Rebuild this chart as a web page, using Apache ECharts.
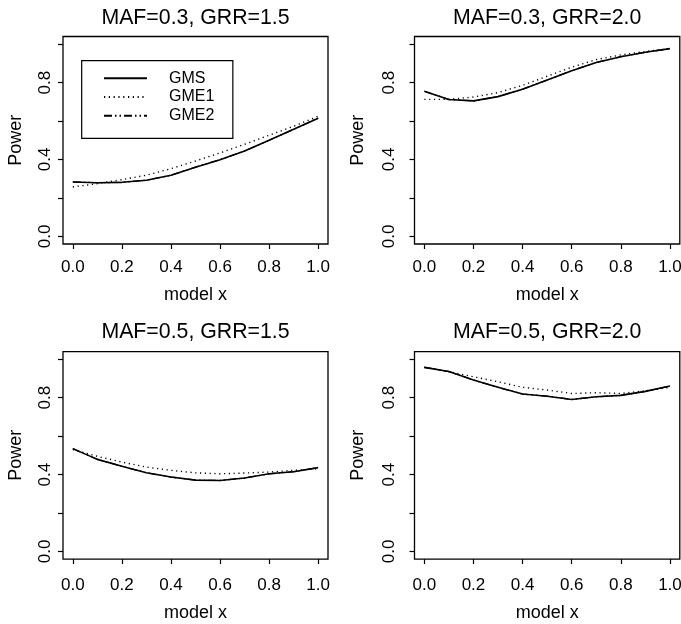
<!DOCTYPE html>
<html><head><meta charset="utf-8">
<script src="https://cdn.jsdelivr.net/npm/echarts@6/dist/echarts.min.js"></script>
<style>html,body{margin:0;padding:0;background:#fff}#c{width:681px;height:624px}</style>
</head><body><div id="c"></div>
<script>
// ---- data ----
const modelX = [0, 0.1, 0.2, 0.3, 0.4, 0.5, 0.6, 0.7, 0.8, 0.9, 1.0];
const panelTitles = ['MAF=0.3, GRR=1.5', 'MAF=0.3, GRR=2.0', 'MAF=0.5, GRR=1.5', 'MAF=0.5, GRR=2.0'];
const seriesNames = ['GMS', 'GME1', 'GME2'];
const xTicks = [0, 0.2, 0.4, 0.6, 0.8, 1.0];
const yTicks = [0, 0.2, 0.4, 0.6, 0.8, 1.0];
const yLabels = [0, 0.4, 0.8];
const xAxisTitle = 'model x';
const yAxisTitle = 'Power';

const gms_p1  = [0.283, 0.279, 0.281, 0.292, 0.318, 0.360, 0.399, 0.444, 0.500, 0.557, 0.615];
const gme1_p1 = [0.257, 0.274, 0.295, 0.318, 0.352, 0.392, 0.434, 0.479, 0.526, 0.573, 0.625];
const gme2_p1 = [0.283, 0.279, 0.281, 0.292, 0.318, 0.360, 0.399, 0.444, 0.500, 0.557, 0.615];

const gms_p2  = [0.755, 0.712, 0.705, 0.727, 0.766, 0.813, 0.862, 0.905, 0.935, 0.958, 0.977];
const gme1_p2 = [0.713, 0.713, 0.725, 0.748, 0.786, 0.833, 0.880, 0.920, 0.944, 0.962, 0.977];
const gme2_p2 = [0.755, 0.712, 0.705, 0.727, 0.766, 0.813, 0.862, 0.905, 0.935, 0.958, 0.977];

const gms_p3  = [0.535, 0.479, 0.443, 0.409, 0.387, 0.371, 0.369, 0.382, 0.404, 0.415, 0.436];
const gme1_p3 = [0.530, 0.495, 0.465, 0.439, 0.422, 0.409, 0.404, 0.408, 0.413, 0.422, 0.430];
const gme2_p3 = [0.535, 0.479, 0.443, 0.409, 0.387, 0.371, 0.369, 0.382, 0.404, 0.415, 0.436];

const gms_p4  = [0.958, 0.936, 0.892, 0.854, 0.819, 0.808, 0.791, 0.805, 0.812, 0.833, 0.861];
const gme1_p4 = [0.958, 0.936, 0.909, 0.883, 0.854, 0.840, 0.822, 0.826, 0.822, 0.836, 0.854];
const gme2_p4 = [0.958, 0.936, 0.892, 0.854, 0.819, 0.808, 0.791, 0.805, 0.812, 0.833, 0.861];

const panelData = [
  [gms_p1, gme1_p1, gme2_p1],
  [gms_p2, gme1_p2, gme2_p2],
  [gms_p3, gme1_p3, gme2_p3],
  [gms_p4, gme1_p4, gme2_p4]
];

// ---- layout / style ----
const FONT = 'Liberation Sans';
const grids = [
  {left: 63,    top: 36.5,  width: 265,   height: 207.5},
  {left: 414.5, top: 36.5,  width: 265.3, height: 207.5},
  {left: 63,    top: 351.6, width: 265,   height: 207.5},
  {left: 414.5, top: 351.6, width: 265.3, height: 207.5}
];
const titleCenterY = [18, 18, 332.5, 332.5];
const xLabelMargin = [15.3, 15.3, 17.5, 17.5];
const xNameGap = [42, 42, 45, 45];
const yLabelMargin = [9, 17, 9, 17];
const yNameGap = [38, 47, 38, 47];
const TITLE_FS = 21.3;

const lineStyles = [
  {color: '#000', width: 1.6, type: 'solid'},
  {color: '#000', width: 1.4, type: [1.2, 3.6]},
  {color: '#000', width: 1.3, type: [8, 3, 1.5, 3, 1.5, 3]}
];

const fmt = v => Number(v).toFixed(1);
const option = {
  backgroundColor: '#fff',
  animation: false,
  textStyle: {fontFamily: FONT, color: '#000'},
  title: grids.map((g, i) => ({
    text: panelTitles[i],
    left: g.left + g.width / 2,
    top: titleCenterY[i] - TITLE_FS / 2,
    padding: 0,
    textAlign: 'center',
    textStyle: {fontFamily: FONT, fontSize: TITLE_FS, lineHeight: TITLE_FS, fontWeight: 'normal', color: '#000'}
  })),
  grid: grids.map(g => Object.assign({
    show: true, borderColor: '#000', borderWidth: 1.3, backgroundColor: 'transparent',
    containLabel: false, outerBoundsMode: 'none'
  }, g)),
  legend: {
    data: seriesNames,
    orient: 'vertical',
    left: 81.7, top: 60.7,
    padding: [9, 18.5, 14, 21.3],
    borderColor: '#000', borderWidth: 1.2,
    itemWidth: 43, itemHeight: 14, itemGap: 1.8,
    itemStyle: {opacity: 0, borderWidth: 0},
    textStyle: {fontFamily: FONT, fontSize: 16, color: '#000', padding: [0, 0, 0, 17], lineHeight: 17}
  },
  xAxis: grids.map((g, i) => ({
    type: 'value', gridIndex: i, min: -0.04, max: 1.04,
    name: xAxisTitle, nameLocation: 'middle', nameGap: xNameGap[i],
    nameTextStyle: {fontFamily: FONT, fontSize: 18, color: '#000'},
    axisLine: {show: false, onZero: false},
    splitLine: {show: false},
    axisTick: {show: true, inside: false, length: 5, customValues: xTicks, lineStyle: {color: '#000', width: 1.2}},
    axisLabel: {show: true, customValues: xTicks, formatter: fmt, margin: xLabelMargin[i],
      fontFamily: FONT, fontSize: 17, color: '#000'}
  })),
  yAxis: grids.map((g, i) => ({
    type: 'value', gridIndex: i, min: -0.04, max: 1.04,
    name: yAxisTitle, nameLocation: 'middle', nameGap: yNameGap[i], nameRotate: 90,
    nameTextStyle: {fontFamily: FONT, fontSize: 18, color: '#000'},
    axisLine: {show: false, onZero: false},
    splitLine: {show: false},
    axisTick: {show: true, inside: false, length: 5, customValues: yTicks, lineStyle: {color: '#000', width: 1.2}},
    axisLabel: {show: true, customValues: yLabels, formatter: fmt, margin: yLabelMargin[i], rotate: 90,
      fontFamily: FONT, fontSize: 17, color: '#000'}
  })),
  series: []
};

panelData.forEach((arrs, p) => {
  arrs.forEach((vals, s) => {
    option.series.push({
      type: 'line', name: seriesNames[s],
      xAxisIndex: p, yAxisIndex: p,
      data: modelX.map((x, k) => [x, vals[k]]),
      symbol: 'none', smooth: false,
      lineStyle: lineStyles[s],
      itemStyle: {color: '#000'},
      z: 2 + s
    });
  });
});

const chart = echarts.init(document.getElementById('c'), null, {renderer: 'canvas'});
chart.setOption(option);
</script>
</body></html>
